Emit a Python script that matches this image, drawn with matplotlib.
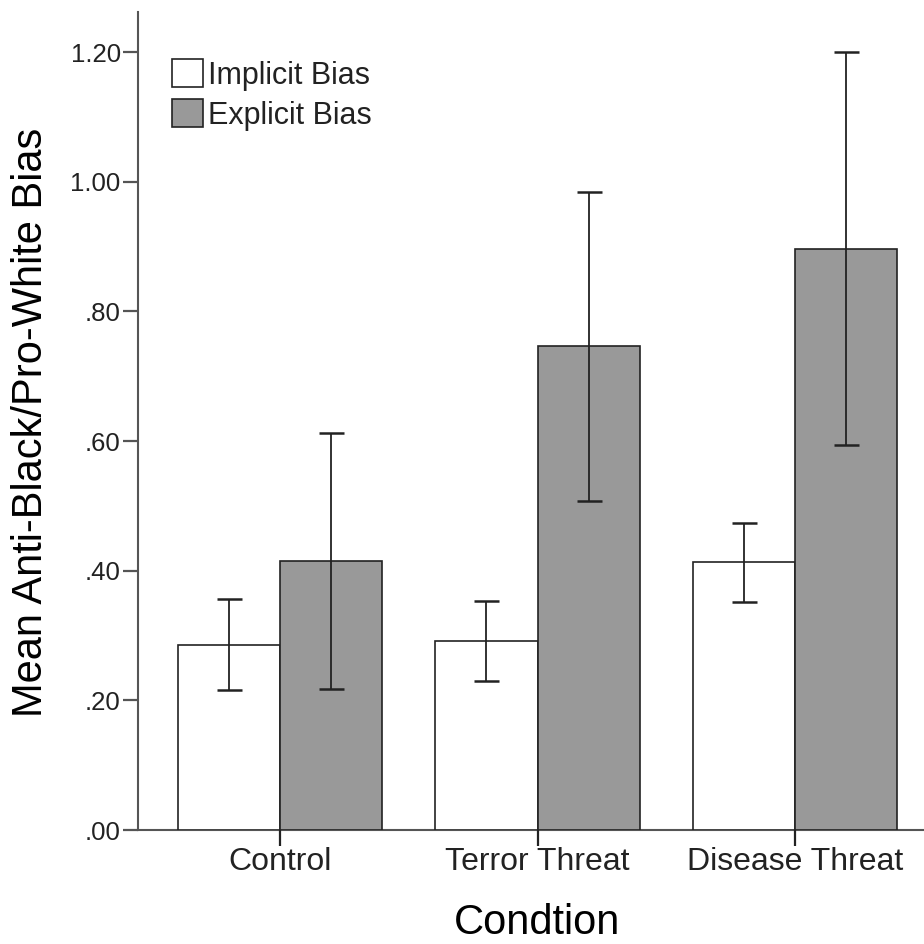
import matplotlib
matplotlib.use("Agg")
import matplotlib.pyplot as plt
import numpy as np

plt.rcParams['font.family'] = ['Liberation Sans', 'DejaVu Sans']

categories = ["Control", "Terror Threat", "Disease Threat"]
series_names = ["Implicit Bias", "Explicit Bias"]
implicit_mean = [0.286, 0.292, 0.413]
implicit_lo = [0.216, 0.230, 0.352]
implicit_hi = [0.357, 0.354, 0.473]
explicit_mean = [0.415, 0.746, 0.897]
explicit_lo = [0.218, 0.507, 0.594]
explicit_hi = [0.613, 0.985, 1.200]
yticks = [0.0, 0.2, 0.4, 0.6, 0.8, 1.0, 1.2]
yticklabels = [".00", ".20", ".40", ".60", ".80", "1.00", "1.20"]

W, H = 924, 944
fig = plt.figure(figsize=(W / 100, H / 100), dpi=100)
ax = fig.add_axes([138 / W, 1 - 830 / H, (924 - 138) / W, (830 - 12) / H])

x = np.arange(len(categories))
bw = 0.397
spine_col = "#555555"
edge = "#222222"

ax.bar(x - bw / 2, implicit_mean, bw, color="white", edgecolor=edge, linewidth=1.2,
       label=series_names[0], zorder=2)
ax.bar(x + bw / 2, explicit_mean, bw, color="#999999", edgecolor=edge, linewidth=1.2,
       label=series_names[1], zorder=2)

for off, m, lo, hi in [(-bw / 2, implicit_mean, implicit_lo, implicit_hi),
                       (bw / 2, explicit_mean, explicit_lo, explicit_hi)]:
    m = np.array(m); lo = np.array(lo); hi = np.array(hi)
    ax.errorbar(x + off, m, yerr=[m - lo, hi - m], fmt="none", ecolor="#222222",
                elinewidth=1.3, capsize=9, capthick=1.8, zorder=3)

ax.set_xlim(-0.551, 2.50)
ax.set_ylim(0, 1.262)
ax.set_yticks(yticks)
ax.set_yticklabels(yticklabels)
ax.set_xticks(x)
ax.set_xticklabels(categories)

for s in ["top", "right"]:
    ax.spines[s].set_visible(False)
for s in ["left", "bottom"]:
    ax.spines[s].set_color(spine_col)
    ax.spines[s].set_linewidth(1.5)
ax.spines["bottom"].set_zorder(1)

ax.tick_params(axis="y", direction="out", length=11, width=1.6, color=spine_col,
               labelsize=18.5, pad=1.5, labelcolor="#222222")
ax.tick_params(axis="x", direction="out", length=11.5, width=1.6, color="#222222",
               labelsize=23, pad=1, labelcolor="#222222")

fig.text(31 / W, 1 - 422 / H, "Mean Anti-Black/Pro-White Bias", rotation=90,
         ha="center", va="center", fontsize=30, color="black")
fig.text(537 / W, 1 - 934 / H, "Condtion", ha="center", va="baseline",
         fontsize=30, color="black")

leg = ax.legend(loc="upper left", bbox_to_anchor=(172 / W, 1 - 59 / H),
                bbox_transform=fig.transFigure, frameon=False, fontsize=22,
                handlelength=1.0, handleheight=1.05, handletextpad=0.18,
                labelspacing=0.28, borderpad=0, borderaxespad=0)
for t in leg.get_texts():
    t.set_color("#222222")

fig.savefig("out.png", dpi=100)
